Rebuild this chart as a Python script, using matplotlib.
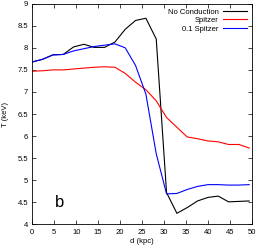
import matplotlib
matplotlib.use("Agg")
import matplotlib.pyplot as plt
import numpy as np

plt.rcParams['font.family'] = ['Liberation Sans', 'DejaVu Sans']

# distance grid (kpc)
d = np.arange(22) * 2.35

no_conduction = [7.68, 7.74, 7.84, 7.85, 8.02, 8.08, 8.01, 8.01, 8.13, 8.42, 8.62,
                 8.67, 8.20, 4.72, 4.25, 4.38, 4.53, 4.61, 4.64, 4.51, 4.52, 4.53]
spitzer = [7.47, 7.48, 7.50, 7.50, 7.52, 7.54, 7.56, 7.57, 7.56, 7.42, 7.22,
           7.05, 6.80, 6.42, 6.20, 5.98, 5.94, 5.89, 5.87, 5.81, 5.81, 5.73]
spitzer01 = [7.68, 7.74, 7.84, 7.85, 7.93, 7.98, 8.03, 8.06, 8.09, 8.00, 7.60,
             6.95, 5.60, 4.69, 4.70, 4.79, 4.86, 4.90, 4.90, 4.89, 4.89, 4.90]

fig = plt.figure(figsize=(2.58, 2.46), dpi=100)
ax = fig.add_axes([0.125, 0.088, 0.852, 0.897])

ax.plot(d, no_conduction, color='black', lw=0.8, label='No Conduction')
ax.plot(d, spitzer, color='red', lw=0.8, label='Spitzer')
ax.plot(d, spitzer01, color='blue', lw=0.8, label='0.1 Spitzer')

ax.set_xlim(0, 50)
ax.set_ylim(4, 9)
ax.set_xticks(np.arange(0, 51, 5))
ax.set_yticks(np.arange(4, 9.01, 0.5))
ax.set_yticklabels(['4', '4.5', '5', '5.5', '6', '6.5', '7', '7.5', '8', '8.5', '9'])
ax.tick_params(direction='in', top=True, right=True, labelsize=5.5,
               length=3, width=0.5, pad=3)
for s in ax.spines.values():
    s.set_linewidth(0.6)

ax.set_xlabel('d (kpc)', fontsize=5.5, labelpad=2)
ax.set_ylabel('T (keV)', fontsize=5.5, labelpad=6)

ax.legend(loc='upper right', frameon=False, fontsize=5.5, markerfirst=False,
          handlelength=3.2, labelspacing=0.15, borderaxespad=0.2, handletextpad=0.6)

ax.text(0.105, 0.08, 'b', transform=ax.transAxes, fontsize=12)

fig.savefig('out.png', dpi=100)
